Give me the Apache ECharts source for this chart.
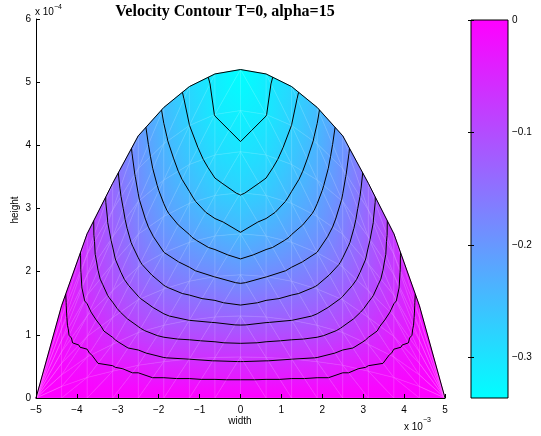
<!DOCTYPE html>
<html>
<head>
<meta charset="utf-8">
<script src="https://cdn.jsdelivr.net/npm/echarts/dist/echarts.min.js"></script>
<style>html,body{margin:0;padding:0;background:#fff;}#c{width:541px;height:436px;}</style>
</head>
<body>
<div id="c"></div>
<script>
// ---- data ----
const xNodes = [-5, -4.375, -3.75, -3.125, -2.5, -1.875, -1.25, -0.625, 0, 0.625, 1.25, 1.875, 2.5, 3.125, 3.75, 4.375, 5];
const surfaceHeight = [0, 1.46, 2.60, 3.40, 4.15, 4.60, 4.93, 5.13, 5.20, 5.13, 4.93, 4.60, 4.15, 3.40, 2.60, 1.46, 0];
const rowFractions = [0, 0.125, 0.25, 0.375, 0.5, 0.625, 0.75, 0.875, 1];
// velocity at mesh nodes, one list per column (bottom -> free surface)
const velocityColumns = [
  [0, 0, 0, 0, 0, 0, 0, 0, 0],
  [0, -0.0045, -0.0090, -0.0128, -0.0159, -0.0182, -0.0197, -0.0209, -0.0220],
  [0, -0.0128, -0.0255, -0.0390, -0.0540, -0.0660, -0.0720, -0.0743, -0.0750],
  [0, -0.0245, -0.0546, -0.0798, -0.1008, -0.1162, -0.1260, -0.1344, -0.1400],
  [0, -0.0398, -0.0856, -0.1194, -0.1473, -0.1672, -0.1811, -0.1910, -0.1990],
  [0, -0.0548, -0.1096, -0.1494, -0.1830, -0.2079, -0.2253, -0.2390, -0.2490],
  [0, -0.0613, -0.1226, -0.1696, -0.2080, -0.2380, -0.2594, -0.2750, -0.2850],
  [0, -0.0666, -0.1313, -0.1840, -0.2291, -0.2651, -0.2886, -0.3064, -0.3130],
  [0, -0.0689, -0.1377, -0.1954, -0.2434, -0.2772, -0.3013, -0.3193, -0.3363],
  [0, -0.0666, -0.1313, -0.1840, -0.2291, -0.2651, -0.2886, -0.3064, -0.3130],
  [0, -0.0613, -0.1226, -0.1696, -0.2080, -0.2380, -0.2594, -0.2750, -0.2850],
  [0, -0.0548, -0.1096, -0.1494, -0.1830, -0.2079, -0.2253, -0.2390, -0.2490],
  [0, -0.0398, -0.0856, -0.1194, -0.1473, -0.1672, -0.1811, -0.1910, -0.1990],
  [0, -0.0245, -0.0546, -0.0798, -0.1008, -0.1162, -0.1260, -0.1344, -0.1400],
  [0, -0.0128, -0.0255, -0.0390, -0.0540, -0.0660, -0.0720, -0.0743, -0.0750],
  [0, -0.0045, -0.0090, -0.0128, -0.0159, -0.0182, -0.0197, -0.0209, -0.0220],
  [0, 0, 0, 0, 0, 0, 0, 0, 0]
];
const contourLevels = [-0.0306, -0.0611, -0.0917, -0.1223, -0.1529, -0.1834, -0.2140, -0.2446, -0.2752, -0.3057];
const velocityMin = -0.3363;
const velocityMax = 0;
const colorbarTicks = [0, -0.1, -0.2, -0.3];
const titleText = 'Velocity Contour T=0, alpha=15';

// ---- mesh built from the arrays ----
const nodes = xNodes.map((x, k) => rowFractions.map((f, j) => ({ x: x, y: surfaceHeight[k] * f, v: velocityColumns[k][j] })));
const triangles = [];
const edges = [];
const half = (xNodes.length - 1) / 2;
for (let k = 0; k < xNodes.length - 1; k++) {
  for (let j = 0; j < rowFractions.length - 1; j++) {
    const a = nodes[k][j], b = nodes[k + 1][j], c = nodes[k + 1][j + 1], d = nodes[k][j + 1];
    if (k < half) {
      triangles.push([a, b, c], [a, c, d]);
      edges.push([a, c]);
    } else {
      triangles.push([a, b, d], [b, c, d]);
      edges.push([b, d]);
    }
    edges.push([a, b]);
    edges.push([b, c]);
  }
}
// contour segments (marching triangles)
const segments = [];
triangles.forEach(t => {
  contourLevels.forEach(L => {
    const pts = [];
    for (let e = 0; e < 3; e++) {
      const p = t[e], q = t[(e + 1) % 3];
      const sp = p.v > L, sq = q.v > L;
      if (sp !== sq) {
        const r = (L - p.v) / (q.v - p.v);
        pts.push([p.x + r * (q.x - p.x), p.y + r * (q.y - p.y)]);
      }
    }
    if (pts.length === 2) segments.push([pts[0][0], pts[0][1], pts[1][0], pts[1][1]]);
  });
});

const CYAN = 'rgb(0,255,255)', MAGENTA = 'rgb(255,0,255)';
function colorAt(s) {
  s = Math.max(0, Math.min(1, s));
  return 'rgb(' + Math.round(255 * s) + ',' + Math.round(255 * (1 - s)) + ',255)';
}
function minusFmt(v) {
  const n = Math.round(v * 1000) / 1000;
  return n < 0 ? '\u2212' + Math.abs(n) : String(n);
}

function renderTri(params, api) {
  const t = triangles[params.dataIndex];
  const p = t.map(n => api.coord([n.x, n.y]));
  const s = t.map(n => (n.v - velocityMin) / (velocityMax - velocityMin));
  const x1 = p[1][0] - p[0][0], y1 = p[1][1] - p[0][1];
  const x2 = p[2][0] - p[0][0], y2 = p[2][1] - p[0][1];
  const det = x1 * y2 - y1 * x2;
  if (Math.abs(det) < 1e-6) return null;
  const d1 = s[1] - s[0], d2 = s[2] - s[0];
  const gx = (d1 * y2 - y1 * d2) / det;
  const gy = (x1 * d2 - d1 * x2) / det;
  const g2 = gx * gx + gy * gy;
  let fill;
  if (g2 < 1e-14) {
    fill = colorAt(s[0]);
  } else {
    const ax = p[0][0] - gx * s[0] / g2, ay = p[0][1] - gy * s[0] / g2;
    fill = { type: 'linear', x: ax, y: ay, x2: ax + gx / g2, y2: ay + gy / g2, global: true,
      colorStops: [{ offset: 0, color: CYAN }, { offset: 1, color: MAGENTA }] };
  }
  return { type: 'polygon', shape: { points: p }, style: { fill: fill, stroke: fill, lineWidth: 0.7 } };
}
function renderEdge(params, api) {
  const e = edges[params.dataIndex];
  const a = api.coord([e[0].x, e[0].y]), b = api.coord([e[1].x, e[1].y]);
  return { type: 'line', shape: { x1: a[0], y1: a[1], x2: b[0], y2: b[1] },
    style: { stroke: 'rgba(255,255,255,0.2)', lineWidth: 0.7 } };
}
function renderSeg(params, api) {
  const s = segments[params.dataIndex];
  const a = api.coord([s[0], s[1]]), b = api.coord([s[2], s[3]]);
  return { type: 'line', shape: { x1: a[0], y1: a[1], x2: b[0], y2: b[1] },
    style: { stroke: '#000', lineWidth: 1 } };
}
function renderBar(params, api) {
  const p0 = api.coord([0, velocityMin]);
  const p1 = api.coord([1, velocityMax]);
  return { type: 'rect', shape: { x: p0[0], y: p1[1], width: p1[0] - p0[0], height: p0[1] - p1[1] },
    style: { fill: { type: 'linear', x: 0, y: 0, x2: 0, y2: 1, colorStops: [{ offset: 0, color: MAGENTA }, { offset: 1, color: CYAN }] },
      stroke: '#000', lineWidth: 1 } };
}

const font = 'Liberation Sans';
const chart = echarts.init(document.getElementById('c'), null, { renderer: 'canvas' });
chart.setOption({
  animation: false,
  backgroundColor: '#fff',
  grid: [
    { left: 36, right: 96, top: 19, bottom: 38 },
    { left: 471, right: 33, top: 20, bottom: 38 }
  ],
  xAxis: [
    { gridIndex: 0, type: 'value', min: -5, max: 5, interval: 1, z: 10,
      axisLine: { show: true, onZero: false, lineStyle: { color: '#000', width: 1 } },
      axisTick: { show: true, inside: true, length: 4, lineStyle: { color: '#000' } },
      axisLabel: { color: '#000', fontSize: 10, fontFamily: font, margin: 7, formatter: minusFmt },
      splitLine: { show: false } },
    { gridIndex: 1, type: 'value', min: 0, max: 1, show: false }
  ],
  yAxis: [
    { gridIndex: 0, type: 'value', min: 0, max: 6, interval: 1, z: 10,
      axisLine: { show: true, onZero: false, lineStyle: { color: '#000', width: 1 } },
      axisTick: { show: true, inside: true, length: 4, lineStyle: { color: '#000' } },
      axisLabel: { color: '#000', fontSize: 10, fontFamily: font, margin: 5 },
      splitLine: { show: false } },
    { gridIndex: 1, type: 'value', min: velocityMin, max: velocityMax, position: 'right', z: 10,
      axisLine: { show: false },
      axisTick: { show: true, inside: true, length: 3, customValues: colorbarTicks, lineStyle: { color: '#000' } },
      axisLabel: { show: true, customValues: colorbarTicks, color: '#000', fontSize: 10, fontFamily: font, margin: 4, formatter: minusFmt },
      splitLine: { show: false } },
    { gridIndex: 1, type: 'value', min: velocityMin, max: velocityMax, position: 'left', z: 10,
      axisLine: { show: false },
      axisTick: { show: true, inside: true, length: 3, customValues: colorbarTicks, lineStyle: { color: '#000' } },
      axisLabel: { show: false }, splitLine: { show: false } }
  ],
  graphic: [
    { type: 'text', x: 225, y: 12, style: { text: titleText, font: 'bold 16px "Liberation Serif"', fill: '#000', textAlign: 'center', textVerticalAlign: 'middle' } },
    { type: 'text', x: 35, y: 12, style: { text: 'x 10', font: '10px "Liberation Sans"', fill: '#000', textVerticalAlign: 'middle' } },
    { type: 'text', x: 54, y: 7, style: { text: '\u22124', font: '7px "Liberation Sans"', fill: '#000', textVerticalAlign: 'middle' } },
    { type: 'text', x: 404, y: 427, style: { text: 'x 10', font: '10px "Liberation Sans"', fill: '#000', textVerticalAlign: 'middle' } },
    { type: 'text', x: 423, y: 420, style: { text: '\u22123', font: '7px "Liberation Sans"', fill: '#000', textVerticalAlign: 'middle' } },
    { type: 'text', x: 240, y: 421, style: { text: 'width', font: '10px "Liberation Sans"', fill: '#000', textAlign: 'center', textVerticalAlign: 'middle' } },
    { type: 'text', x: 15, y: 210, rotation: Math.PI / 2, style: { text: 'height', font: '10px "Liberation Sans"', fill: '#000', textAlign: 'center', textVerticalAlign: 'middle' } }
  ],
  series: [
    { type: 'custom', xAxisIndex: 0, yAxisIndex: 0, z: 1, silent: true, renderItem: renderTri,
      data: triangles.map(t => [t[0].x, t[0].y]), encode: { x: 0, y: 1 } },
    { type: 'custom', xAxisIndex: 0, yAxisIndex: 0, z: 2, silent: true, renderItem: renderEdge,
      data: edges.map(e => [e[0].x, e[0].y]), encode: { x: 0, y: 1 } },
    { type: 'custom', xAxisIndex: 0, yAxisIndex: 0, z: 3, silent: true, renderItem: renderSeg,
      data: segments.map(s => [s[0], s[1]]), encode: { x: 0, y: 1 } },
    { type: 'line', xAxisIndex: 0, yAxisIndex: 0, z: 4, silent: true, symbol: 'none',
      lineStyle: { color: '#000', width: 1 },
      data: xNodes.map((x, k) => [x, surfaceHeight[k]]) },
    { type: 'custom', xAxisIndex: 1, yAxisIndex: 1, z: 1, silent: true, renderItem: renderBar,
      data: [[0, velocityMin]], encode: { x: 0, y: 1 } }
  ]
});
</script>
</body>
</html>
